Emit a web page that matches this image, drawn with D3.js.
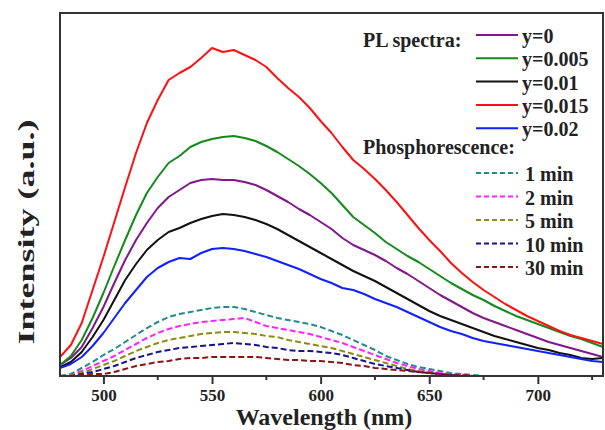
<!DOCTYPE html>
<html>
<head>
<meta charset="utf-8">
<script src="https://cdn.jsdelivr.net/npm/d3@7"></script>
<style>
  body { margin: 0; background: #fff; }
  svg { display: block; }
  text { font-family: 'Liberation Serif', 'Times New Roman', serif; font-weight: bold; fill: #222; }
</style>
</head>
<body>
<svg width="605" height="430"></svg>
<script>
// wavelength grid (nm) read at 5 nm steps
const wavelengths = [480, 485, 490, 495, 500, 505, 510, 515, 520, 525, 530, 535, 540, 545, 550,
  555, 560, 565, 570, 575, 580, 585, 590, 595, 600, 605, 610, 615, 620, 625, 630, 635, 640, 645,
  650, 655, 660, 665, 670, 675, 680, 685, 690, 695, 700, 705, 710, 715, 720, 725, 730];

// PL spectra (a.u.)
const plY0 = [11, 18, 29, 48, 69, 93, 116, 136, 153, 168, 179, 186, 193, 196, 197, 196, 196, 194,
  191, 186, 180, 174, 167, 161, 154, 147, 138, 131, 126, 121, 115, 108, 102, 95, 88, 81, 75, 69,
  63, 58, 54, 50, 46, 42, 38, 34, 31, 28, 25, 22, 19];
const plY005 = [11, 20, 36, 58, 83, 110, 136, 161, 183, 199, 213, 220, 229, 234, 237, 239, 240, 238,
  235, 230, 224, 217, 210, 202, 193, 183, 171, 159, 151, 143, 134, 127, 120, 114, 107, 100, 93, 87,
  81, 76, 70, 65, 60, 56, 52, 48, 44, 40, 37, 33, 29];
const plY01 = [9, 14, 24, 39, 56, 76, 96, 112, 126, 136, 144, 148, 153, 157, 160, 162, 161, 159,
  156, 152, 147, 141, 135, 129, 123, 117, 111, 105, 100, 95, 89, 83, 77, 71, 65, 60, 56, 52, 48,
  44, 40, 37, 34, 31, 28, 26, 23, 21, 18, 17, 18];
const plY015 = [19, 31, 53, 86, 119, 154, 189, 223, 253, 276, 296, 303, 309, 318, 328, 324, 326, 321,
  316, 309, 298, 288, 279, 268, 255, 243, 229, 216, 207, 197, 186, 174, 161, 148, 136, 125, 113,
  103, 94, 86, 79, 72, 66, 60, 55, 50, 45, 41, 38, 35, 32];
const plY02 = [8, 12, 19, 30, 43, 58, 73, 86, 99, 108, 114, 118, 117, 123, 127, 128, 127, 125, 122,
  119, 115, 111, 107, 102, 97, 93, 88, 86, 82, 77, 73, 69, 64, 59, 54, 49, 45, 42, 38, 35, 33, 31,
  29, 27, 25, 23, 21, 19, 17, 15, 14];

// phosphorescence (a.u.), 480-680 nm
const ph1 = [0, 2, 8, 14, 21, 27, 34, 41, 48, 54, 59, 62, 64, 66, 68, 69, 69, 67, 64, 61, 58, 56,
  54, 52, 49, 45, 41, 36, 31, 26, 20, 16, 12, 9, 7, 5, 3, 2, 1, 0, 0];
const ph2 = [0, 1, 5, 10, 15, 20, 26, 32, 38, 43, 47, 50, 52, 54, 55, 56, 57, 58, 54, 50, 48, 46,
  44, 42, 39, 36, 33, 29, 25, 21, 17, 13, 10, 7, 5, 3, 2, 1, 0, 0, 0];
const ph5 = [0, 1, 3, 7, 11, 15, 20, 25, 29, 33, 36, 38, 40, 42, 43, 44, 44, 43, 42, 40, 39, 36,
  34, 32, 30, 28, 25, 22, 19, 16, 13, 10, 7, 5, 3, 2, 1, 0, 0, 0, 0];
const ph10 = [0, 0, 2, 4, 7, 10, 14, 18, 21, 24, 26, 28, 29, 30, 31, 32, 33, 32, 31, 29, 28, 26,
  25, 25, 24, 23, 21, 18, 15, 12, 10, 8, 6, 4, 3, 2, 1, 0, 0, 0, 0];
const ph30 = [0, 0, 1, 2, 2, 4, 7, 10, 12, 14, 15, 17, 18, 18, 19, 19, 19, 19, 19, 18, 17, 16, 16,
  15, 15, 14, 13, 11, 10, 8, 7, 6, 5, 4, 3, 2, 1, 1, 0, 0, 0];

const plLabels = ['y=0', 'y=0.005', 'y=0.01', 'y=0.015', 'y=0.02'];
const phLabels = ['1 min', '2 min', '5 min', '10 min', '30 min'];
const xTicks = [500, 550, 600, 650, 700];
const xMinorTicks = [525, 575, 625, 675, 725];

const config = {
  left: 60, right: 603, top: 13, bottom: 376,
  plColors: ['#82168a', '#138a1b', '#111111', '#ff1010', '#1020ff'],
  phColors: ['#218a8c', '#ff22ff', '#8c8a14', '#14148c', '#8c1414'],
};

const svg = d3.select('svg');
const x = d3.scaleLinear().domain([480, 730]).range([config.left, config.right]);
const y = d3.scaleLinear().domain([0, 363]).range([config.bottom, config.top]);

svg.append('clipPath').attr('id', 'plot')
  .append('rect')
  .attr('x', config.left).attr('y', config.top)
  .attr('width', config.right - config.left).attr('height', config.bottom - config.top);

const line = d3.line()
  .x(d => x(d[0]))
  .y(d => y(d[1]));

const plSeries = [plY0, plY005, plY01, plY015, plY02];
const phSeries = [ph1, ph2, ph5, ph10, ph30];

// dashed phosphorescence curves first, then the PL spectra on top
svg.append('g').attr('clip-path', 'url(#plot)')
  .selectAll('.ph')
  .data(phSeries)
  .enter()
  .append('path')
  .attr('class', 'ph')
  .attr('d', s => line(s.map((v, i) => [wavelengths[i], v])))
  .attr('fill', 'none')
  .attr('stroke', (s, i) => config.phColors[i])
  .attr('stroke-width', 2)
  .attr('stroke-dasharray', '6,3');

svg.append('g').attr('clip-path', 'url(#plot)')
  .selectAll('.pl')
  .data(plSeries)
  .enter()
  .append('path')
  .attr('class', 'pl')
  .attr('d', s => line(s.map((v, i) => [wavelengths[i], v])))
  .attr('fill', 'none')
  .attr('stroke', (s, i) => config.plColors[i])
  .attr('stroke-width', 2)
  .attr('stroke-linejoin', 'round');

// x axis: major ticks with labels, minor ticks without
const xAxis = svg.append('g')
  .attr('transform', `translate(0,${config.bottom})`)
  .call(d3.axisBottom(x).tickValues(xTicks).tickSize(8).tickPadding(5));
xAxis.select('.domain').remove();
xAxis.selectAll('line').attr('stroke', '#333').attr('stroke-width', 2);
xAxis.selectAll('text')
  .attr('font-family', "'Liberation Serif', serif")
  .attr('font-weight', 'bold')
  .attr('font-size', 17)
  .attr('fill', '#222');

svg.append('g')
  .selectAll('.minor')
  .data(xMinorTicks)
  .enter()
  .append('line')
  .attr('class', 'minor')
  .attr('x1', d => x(d)).attr('x2', d => x(d))
  .attr('y1', config.bottom).attr('y2', config.bottom + 4)
  .attr('stroke', '#333').attr('stroke-width', 2);

// frame
svg.append('rect')
  .attr('x', config.left).attr('y', config.top)
  .attr('width', config.right - config.left).attr('height', config.bottom - config.top)
  .attr('fill', 'none').attr('stroke', '#333').attr('stroke-width', 2);

// axis titles
svg.append('text')
  .attr('x', 324).attr('y', 425)
  .attr('text-anchor', 'middle')
  .attr('font-size', 24)
  .text('Wavelength (nm)');

// the reference stretches this label along its length
svg.append('text')
  .attr('transform', 'translate(34,232) rotate(-90)')
  .attr('text-anchor', 'middle')
  .attr('font-size', 24)
  .attr('textLength', 225)
  .attr('lengthAdjust', 'spacingAndGlyphs')
  .text('Intensity (a.u.)');

// legend
const legend = svg.append('g').attr('font-size', 20);
legend.append('text').attr('x', 363).attr('y', 47).text('PL spectra:');
legend.append('text').attr('x', 363).attr('y', 154).text('Phosphorescence:');

const plRows = legend.selectAll('.pl-row')
  .data(plLabels)
  .enter()
  .append('g')
  .attr('class', 'pl-row')
  .attr('transform', (d, i) => `translate(0,${35 + i * 23.3})`);
plRows.append('line')
  .attr('x1', 476).attr('x2', 518)
  .attr('stroke', (d, i) => config.plColors[i])
  .attr('stroke-width', 2);
plRows.append('text')
  .attr('x', 522).attr('y', 8)
  .text(d => d);

const phRows = legend.selectAll('.ph-row')
  .data(phLabels)
  .enter()
  .append('g')
  .attr('class', 'ph-row')
  .attr('transform', (d, i) => `translate(0,${173 + i * 23.5})`);
phRows.append('line')
  .attr('x1', 476).attr('x2', 518)
  .attr('stroke', (d, i) => config.phColors[i])
  .attr('stroke-width', 2)
  .attr('stroke-dasharray', '5,3');
phRows.append('text')
  .attr('x', 525).attr('y', 8)
  .text(d => d);
</script>
</body>
</html>
